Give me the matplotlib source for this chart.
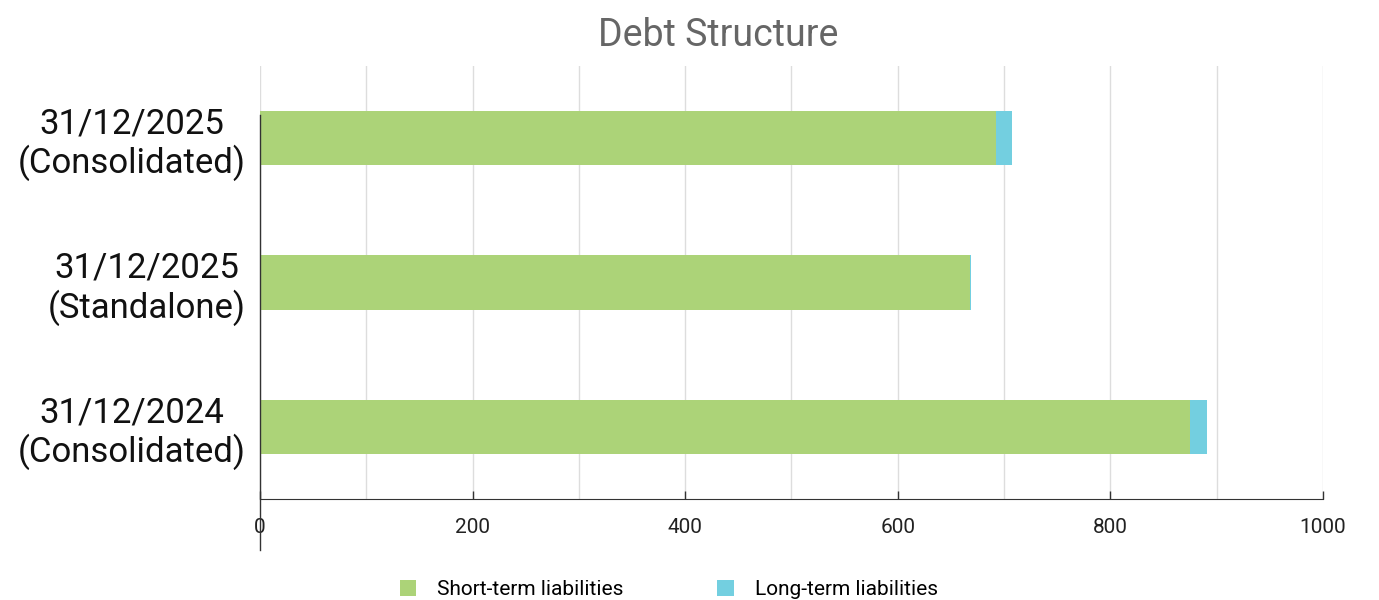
import matplotlib.pyplot as plt
import numpy as np

# data
categories = ["31/12/2025\n(Consolidated)", "31/12/2025\n(Standalone)", "31/12/2024\n(Consolidated)"]
short_term = [692, 668, 875]
long_term = [15.5, 0.8, 15.5]
series_names = ["Short-term liabilities", "Long-term liabilities"]
colors = ["#acd378", "#73cfe0"]

plt.rcParams["font.family"] = ["Roboto", "DejaVu Sans"]

fig = plt.figure(figsize=(13.79, 6), dpi=100)
ax = fig.add_axes([0.1885, 0.1683, 0.7709, 0.7217])

y = np.arange(len(categories))
ax.barh(y, short_term, height=0.375, color=colors[0], label=series_names[0], zorder=3)
ax.barh(y, long_term, left=short_term, height=0.375, color=colors[1], label=series_names[1], zorder=3)

ax.set_ylim(2.5, -0.5)
ax.set_xlim(0, 1000)
ax.set_yticks(y)
ax.set_yticklabels(categories, fontsize=25, color="#111111", linespacing=1.15,
                   multialignment="center")
ax.tick_params(axis="y", length=0, pad=10)

ax.set_xticks(np.arange(0, 1001, 200))
ax.set_xticks(np.arange(0, 1001, 100), minor=True)
ax.tick_params(axis="x", which="major", direction="in", length=6, width=1, color="#333333",
               labelsize=15, labelcolor="#222222", pad=14)
ax.tick_params(axis="x", which="minor", length=0)
ax.grid(axis="x", which="both", color="#dddddd", linewidth=1, zorder=0)

for s in ["top", "right", "left"]:
    ax.spines[s].set_visible(False)
ax.spines["bottom"].set_color("#333333")
ax.axvline(0, ymin=-0.118, ymax=0.887, color="#333333", linewidth=1, clip_on=False, zorder=4)

fig.text(0.521, 0.94, "Debt Structure", fontsize=27, color="#666666", ha="center", va="center")

fig.legend(loc="lower center", bbox_to_anchor=(0.485, -0.03), ncol=2, frameon=False,
           fontsize=15, handlelength=0.8, handleheight=0.8, columnspacing=4.5, handletextpad=1.0)

fig.savefig("out.png", dpi=100)
